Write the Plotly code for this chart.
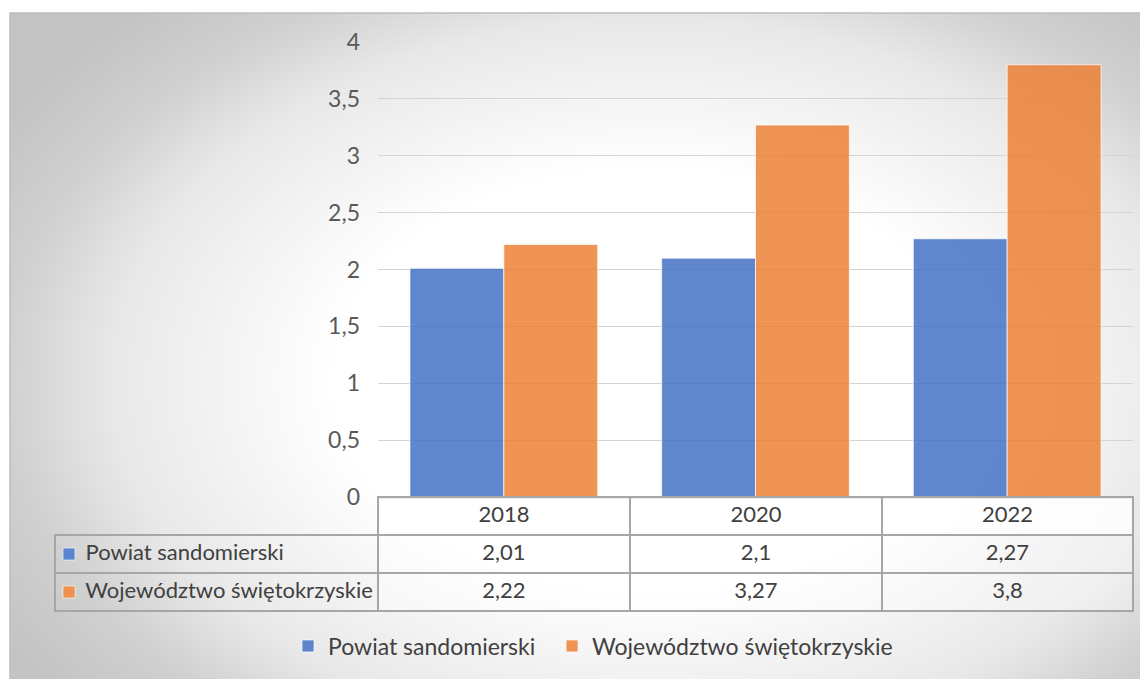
import plotly.graph_objects as go

years = ["2018", "2020", "2022"]
powiat = [2.01, 2.1, 2.27]
wojewodztwo = [2.22, 3.27, 3.8]
series_names = ["Powiat sandomierski", "Województwo świętokrzyskie"]

# the page body keeps its default 8px margin, so the figure is a bit
# smaller and every reference pixel position is shifted by that margin
OFF = 8
W, H = 1148 - OFF, 679 - OFF
FONT = "Lato"
FS = 23
TXT = "#404040"
BLUE = "rgba(68,114,196,0.85)"
ORANGE = "rgba(237,125,49,0.82)"
BLUE_SOLID = "#5B86CF"
ORANGE_SOLID = "#EE914F"
NB = "\u00a0"


def px_x(p):
    return (p - OFF) / W


def px_y(p):
    return 1 - (p - OFF) / H


def fmt(v):
    return str(v).replace(".", ",")


# background panel: radial gradient on hidden axes (drawn first).
# The polygon runs past the visible area so the light centre sits
# right of the middle, as in the reference.
def bg_x(p):
    return (p - 10) / 1138


def bg_y(p):
    return (679 - p) / 666


bx0, bx1 = bg_x(-100), bg_x(1400)
by0, by1 = bg_y(880), bg_y(-120)

fig = go.Figure()
fig.add_trace(go.Scatter(
    x=[bx0, bx1, bx1, bx0, bx0], y=[by0, by0, by1, by1, by0],
    xaxis="x", yaxis="y",
    mode="lines", fill="toself",
    line=dict(width=0),
    fillgradient=dict(type="radial",
                      colorscale=[[0, "#ffffff"], [0.42, "#ffffff"], [0.72, "#e8e8e8"],
                                  [0.86, "#d0d0d0"], [1, "#c4c4c4"]]),
    hoverinfo="skip", showlegend=False,
))

fig.add_trace(go.Bar(
    x=years, y=powiat, name=series_names[0] + NB * 2,
    xaxis="x2", yaxis="y2",
    marker=dict(color=BLUE, line=dict(color="rgba(255,255,255,0.7)", width=1)),
))
fig.add_trace(go.Bar(
    x=years, y=wojewodztwo, name=series_names[1],
    xaxis="x2", yaxis="y2",
    marker=dict(color=ORANGE, line=dict(color="rgba(255,255,255,0.7)", width=1)),
))

# data table under the plot (first column indented for the colour keys)
first_col = [NB * 4 + s.replace(" ", NB) for s in series_names]
cols = [first_col] + [[fmt(p), fmt(w)] for p, w in zip(powiat, wojewodztwo)]
grid = "#a6a6a6"
TFS = 22
fig.add_trace(go.Table(
    domain=dict(x=[px_x(55), px_x(1133)], y=[px_y(612), px_y(497)]),
    columnwidth=[323, 252, 252, 251],
    header=dict(
        values=[""] + years,
        height=38,
        align="center",
        font=dict(family=FONT, size=TFS, color=TXT),
        fill=dict(color=["rgba(0,0,0,0)"] + ["rgba(255,255,255,0.85)"] * 3),
        line=dict(color=["rgba(0,0,0,0)"] + [grid] * 3, width=1.5),
    ),
    cells=dict(
        values=cols,
        height=38,
        align=["left", "center", "center", "center"],
        font=dict(family=FONT, size=TFS, color=TXT),
        fill=dict(color=["rgba(0,0,0,0)"] + ["rgba(255,255,255,0.35)"] * 3),
        line=dict(color=grid, width=1.5),
    ),
))

# colour keys in the table's first column
key_shapes = []
for i, col in enumerate([BLUE_SOLID, ORANGE_SOLID]):
    yc = 554 + 38 * i
    key_shapes.append(dict(
        type="rect", xref="paper", yref="paper",
        x0=px_x(63), x1=px_x(75), y0=px_y(yc + 6), y1=px_y(yc - 6),
        fillcolor=col, line=dict(color="rgba(255,255,255,0.6)", width=1),
    ))

frame = dict(
    type="rect", xref="paper", yref="paper",
    x0=px_x(10), x1=1.01, y0=-0.01, y1=px_y(13),
    line=dict(color="#bdbdbd", width=1.5), layer="above",
)
legend_box = dict(
    type="rect", xref="paper", yref="paper",
    x0=px_x(260), x1=px_x(912), y0=px_y(668), y1=px_y(625),
    fillcolor="rgba(255,255,255,0.55)", line=dict(width=0), layer="below",
)

fig.update_layout(
    width=W, height=H,
    margin=dict(l=0, r=0, t=0, b=0, autoexpand=False),
    paper_bgcolor="white",
    plot_bgcolor="rgba(0,0,0,0)",
    separators=", ",
    barmode="group",
    bargap=0.254,
    bargroupgap=0,
    font=dict(family=FONT, size=FS, color=TXT),
    xaxis=dict(domain=[px_x(10), 1], range=[0, 1], visible=False, fixedrange=True),
    yaxis=dict(domain=[0, px_y(13)], range=[0, 1], visible=False, fixedrange=True),
    xaxis2=dict(
        domain=[px_x(378), px_x(1133)], anchor="y2",
        showticklabels=False, ticks="",
        showline=True, linecolor="#8c8c8c", linewidth=2,
        showgrid=False, automargin=False,
    ),
    yaxis2=dict(
        domain=[px_y(497), px_y(42)], anchor="x2",
        range=[0, 4], dtick=0.5,
        showgrid=True, gridcolor="#d4d4d4", gridwidth=1,
        zeroline=False, showline=False,
        tickfont=dict(family=FONT, size=FS, color="#595959"),
        ticklabelstandoff=17, automargin=False,
    ),
    legend=dict(
        orientation="h",
        x=px_x(288), xanchor="left",
        y=px_y(646), yanchor="middle",
        bgcolor="rgba(0,0,0,0)",
        font=dict(family=FONT, size=FS, color=TXT),
        traceorder="normal",
    ),
    shapes=[legend_box, frame] + key_shapes,
)

fig.write_html("out.html")
